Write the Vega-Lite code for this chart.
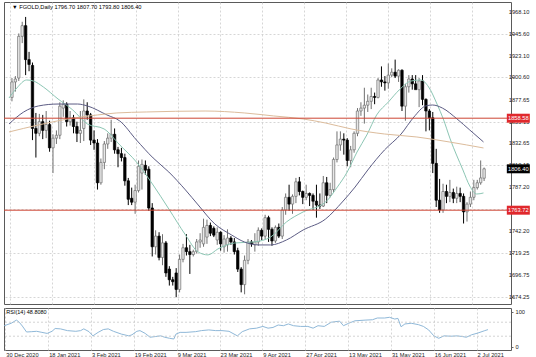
{
"$schema": "https://vega.github.io/schema/vega-lite/v6.json",
"padding": {"left": 1, "top": 1, "right": 0, "bottom": 0},
"background": "white",
"spacing": 2,
"config": {
 "view": {"stroke": "#5a5a5a", "strokeWidth": 1},
 "font": "Liberation Sans",
 "axis": {"labelFont": "Liberation Sans", "labelFontSize": 5.7, "labelColor": "#222222", "tickColor": "#666666", "domain": false, "gridColor": "#cccccc", "gridDash": [2, 2], "gridWidth": 0.8, "labelOverlap": false, "labelFlush": false}
},
"datasets": {
 "bars": [
{"i":0,"o":1880,"h":1900,"l":1876,"c":1896},{"i":1,"o":1896,"h":1902,"l":1886,"c":1899},{"i":2,"o":1900,"h":1946,"l":1897,"c":1943},{"i":3,"o":1943,"h":1958,"l":1936,"c":1954},{"i":4,"o":1954,"h":1963,"l":1903,"c":1919},{"i":5,"o":1919,"h":1927,"l":1907,"c":1914},{"i":6,"o":1913,"h":1916,"l":1836,"c":1848},{"i":7,"o":1848,"h":1864,"l":1818,"c":1843},{"i":8,"o":1843,"h":1863,"l":1840,"c":1855},{"i":9,"o":1855,"h":1862,"l":1837,"c":1846},
{"i":10,"o":1846,"h":1866,"l":1838,"c":1852},{"i":11,"o":1852,"h":1856,"l":1824,"c":1828},{"i":12,"o":1828,"h":1842,"l":1802,"c":1838},{"i":13,"o":1838,"h":1846,"l":1832,"c":1841},{"i":14,"o":1841,"h":1875,"l":1837,"c":1871},{"i":15,"o":1869,"h":1877,"l":1860,"c":1873},{"i":16,"o":1873,"h":1875,"l":1850,"c":1855},{"i":17,"o":1855,"h":1866,"l":1851,"c":1859},{"i":18,"o":1859,"h":1862,"l":1843,"c":1850},{"i":19,"o":1850,"h":1855,"l":1834,"c":1843},
{"i":20,"o":1843,"h":1866,"l":1833,"c":1846},{"i":21,"o":1848,"h":1878,"l":1835,"c":1866},{"i":22,"o":1866,"h":1875,"l":1857,"c":1862},{"i":23,"o":1862,"h":1864,"l":1831,"c":1836},{"i":24,"o":1836,"h":1846,"l":1826,"c":1833},{"i":25,"o":1833,"h":1837,"l":1785,"c":1792},{"i":26,"o":1792,"h":1817,"l":1790,"c":1813},{"i":27,"o":1813,"h":1835,"l":1806,"c":1832},{"i":28,"o":1832,"h":1843,"l":1827,"c":1838},{"i":29,"o":1838,"h":1857,"l":1834,"c":1842},
{"i":30,"o":1842,"h":1848,"l":1822,"c":1826},{"i":31,"o":1826,"h":1829,"l":1808,"c":1822},{"i":32,"o":1822,"h":1828,"l":1814,"c":1818},{"i":33,"o":1818,"h":1822,"l":1789,"c":1794},{"i":34,"o":1794,"h":1797,"l":1769,"c":1775},{"i":35,"o":1776,"h":1787,"l":1769,"c":1772},{"i":36,"o":1772,"h":1790,"l":1760,"c":1784},{"i":37,"o":1784,"h":1815,"l":1782,"c":1809},{"i":38,"o":1802,"h":1816,"l":1785,"c":1811},{"i":39,"o":1810,"h":1815,"l":1800,"c":1805},
{"i":40,"o":1806,"h":1809,"l":1763,"c":1766},{"i":41,"o":1766,"h":1771,"l":1716,"c":1726},{"i":42,"o":1726,"h":1743,"l":1718,"c":1737},{"i":43,"o":1737,"h":1741,"l":1712,"c":1715},{"i":44,"o":1715,"h":1739,"l":1707,"c":1730},{"i":45,"o":1730,"h":1732,"l":1695,"c":1699},{"i":46,"o":1703,"h":1706,"l":1686,"c":1692},{"i":47,"o":1692,"h":1695,"l":1686,"c":1690},{"i":48,"o":1699,"h":1704,"l":1674,"c":1682},{"i":49,"o":1682,"h":1718,"l":1679,"c":1713},
{"i":50,"o":1713,"h":1729,"l":1710,"c":1725},{"i":51,"o":1725,"h":1739,"l":1717,"c":1721},{"i":52,"o":1721,"h":1728,"l":1698,"c":1718},{"i":53,"o":1718,"h":1723,"l":1716,"c":1721},{"i":54,"o":1721,"h":1734,"l":1719,"c":1731},{"i":55,"o":1731,"h":1740,"l":1725,"c":1733},{"i":56,"o":1729,"h":1755,"l":1726,"c":1746},{"i":57,"o":1736,"h":1754,"l":1729,"c":1748},{"i":58,"o":1748,"h":1751,"l":1737,"c":1740},{"i":59,"o":1745,"h":1747,"l":1736,"c":1738},
{"i":60,"o":1733,"h":1746,"l":1728,"c":1741},{"i":61,"o":1741,"h":1742,"l":1722,"c":1729},{"i":62,"o":1726,"h":1738,"l":1720,"c":1734},{"i":63,"o":1728,"h":1744,"l":1721,"c":1735},{"i":64,"o":1735,"h":1737,"l":1728,"c":1731},{"i":65,"o":1731,"h":1735,"l":1718,"c":1721},{"i":66,"o":1722,"h":1725,"l":1700,"c":1703},{"i":67,"o":1703,"h":1705,"l":1679,"c":1687},{"i":68,"o":1687,"h":1717,"l":1677,"c":1712},{"i":69,"o":1712,"h":1734,"l":1708,"c":1731},
{"i":70,"o":1731,"h":1733,"l":1726,"c":1729},{"i":71,"o":1728,"h":1740,"l":1721,"c":1731},{"i":72,"o":1731,"h":1746,"l":1727,"c":1743},{"i":73,"o":1743,"h":1745,"l":1733,"c":1737},{"i":74,"o":1737,"h":1759,"l":1734,"c":1756},{"i":75,"o":1756,"h":1758,"l":1731,"c":1744},{"i":76,"o":1744,"h":1746,"l":1727,"c":1732},{"i":77,"o":1732,"h":1748,"l":1730,"c":1746},{"i":78,"o":1746,"h":1750,"l":1735,"c":1737},{"i":79,"o":1737,"h":1767,"l":1734,"c":1764},
{"i":80,"o":1764,"h":1781,"l":1759,"c":1777},{"i":81,"o":1777,"h":1790,"l":1763,"c":1770},{"i":82,"o":1770,"h":1780,"l":1760,"c":1778},{"i":83,"o":1778,"h":1797,"l":1771,"c":1793},{"i":84,"o":1793,"h":1798,"l":1779,"c":1783},{"i":85,"o":1783,"h":1784,"l":1770,"c":1777},{"i":86,"o":1777,"h":1790,"l":1774,"c":1781},{"i":87,"o":1781,"h":1782,"l":1768,"c":1779},{"i":88,"o":1779,"h":1781,"l":1764,"c":1773},{"i":89,"o":1773,"h":1790,"l":1756,"c":1769},
{"i":90,"o":1769,"h":1781,"l":1765,"c":1768},{"i":91,"o":1768,"h":1799,"l":1767,"c":1792},{"i":92,"o":1792,"h":1798,"l":1771,"c":1779},{"i":93,"o":1779,"h":1792,"l":1777,"c":1785},{"i":94,"o":1785,"h":1818,"l":1782,"c":1816},{"i":95,"o":1816,"h":1845,"l":1813,"c":1831},{"i":96,"o":1831,"h":1845,"l":1825,"c":1837},{"i":97,"o":1837,"h":1843,"l":1821,"c":1836},{"i":98,"o":1836,"h":1838,"l":1809,"c":1815},{"i":99,"o":1815,"h":1830,"l":1808,"c":1826},
{"i":100,"o":1826,"h":1845,"l":1823,"c":1843},{"i":101,"o":1843,"h":1869,"l":1840,"c":1866},{"i":102,"o":1866,"h":1875,"l":1861,"c":1869},{"i":103,"o":1869,"h":1890,"l":1853,"c":1872},{"i":104,"o":1872,"h":1883,"l":1865,"c":1876},{"i":105,"o":1876,"h":1890,"l":1868,"c":1881},{"i":106,"o":1881,"h":1885,"l":1873,"c":1880},{"i":107,"o":1880,"h":1900,"l":1879,"c":1898},{"i":108,"o":1898,"h":1912,"l":1891,"c":1896},{"i":109,"o":1896,"h":1902,"l":1887,"c":1895},
{"i":110,"o":1895,"h":1915,"l":1889,"c":1903},{"i":111,"o":1903,"h":1910,"l":1901,"c":1906},{"i":112,"o":1906,"h":1919,"l":1900,"c":1902},{"i":113,"o":1902,"h":1909,"l":1896,"c":1908},{"i":114,"o":1908,"h":1909,"l":1866,"c":1871},{"i":115,"o":1871,"h":1894,"l":1856,"c":1891},{"i":116,"o":1891,"h":1903,"l":1885,"c":1899},{"i":117,"o":1899,"h":1903,"l":1888,"c":1894},{"i":118,"o":1894,"h":1903,"l":1889,"c":1888},{"i":119,"o":1888,"h":1900,"l":1870,"c":1897},
{"i":120,"o":1897,"h":1903,"l":1872,"c":1878},{"i":121,"o":1878,"h":1879,"l":1845,"c":1866},{"i":122,"o":1866,"h":1868,"l":1846,"c":1859},{"i":123,"o":1859,"h":1865,"l":1802,"c":1812},{"i":124,"o":1812,"h":1827,"l":1767,"c":1774},{"i":125,"o":1774,"h":1796,"l":1761,"c":1764},{"i":126,"o":1764,"h":1791,"l":1761,"c":1783},{"i":127,"o":1783,"h":1790,"l":1771,"c":1778},{"i":128,"o":1778,"h":1795,"l":1772,"c":1782},{"i":129,"o":1782,"h":1786,"l":1771,"c":1776},
{"i":130,"o":1776,"h":1788,"l":1771,"c":1781},{"i":131,"o":1781,"h":1787,"l":1772,"c":1778},{"i":132,"o":1778,"h":1781,"l":1750,"c":1762},{"i":133,"o":1762,"h":1772,"l":1752,"c":1770},{"i":134,"o":1770,"h":1783,"l":1767,"c":1777},{"i":135,"o":1777,"h":1795,"l":1774,"c":1787},{"i":136,"o":1787,"h":1795,"l":1785,"c":1792},{"i":137,"o":1792,"h":1815,"l":1790,"c":1797},{"i":138,"o":1796.7,"h":1807.7,"l":1793.8,"c":1806.4}
 ],
 "ma": [
{"s":"fast","i":-0.86,"v":1879.4},{"s":"fast","i":1.43,"v":1889.7},{"s":"fast","i":4.3,"v":1898.0},{"s":"fast","i":6.3,"v":1896.9},{"s":"fast","i":9.17,"v":1890.8},{"s":"fast","i":13.47,"v":1878.4},{"s":"fast","i":17.77,"v":1867.1},{"s":"fast","i":22.06,"v":1852.6},{"s":"fast","i":26.93,"v":1847.5},{"s":"fast","i":31.52,"v":1831.0},{"s":"fast","i":36.39,"v":1813.4},{"s":"fast","i":41.26,"v":1789.7},{"s":"fast","i":45.85,"v":1765.0},{"s":"fast","i":50.72,"v":1738.2},{"s":"fast","i":54.44,"v":1720.6},{"s":"fast","i":57.31,"v":1717.6},{"s":"fast","i":60.17,"v":1723.7},{"s":"fast","i":65.04,"v":1729.9},{"s":"fast","i":70.77,"v":1731.0},{"s":"fast","i":75.64,"v":1736.1},{"s":"fast","i":80.23,"v":1751.6},{"s":"fast","i":85.1,"v":1761.9},{"s":"fast","i":91.69,"v":1772.2},{"s":"fast","i":95.13,"v":1787.7},{"s":"fast","i":97.99,"v":1803.1},{"s":"fast","i":100.86,"v":1823.7},{"s":"fast","i":103.72,"v":1841.3},{"s":"fast","i":106.59,"v":1861.9},{"s":"fast","i":110.03,"v":1875.3},{"s":"fast","i":113.18,"v":1887.7},{"s":"fast","i":116.62,"v":1896.9},{"s":"fast","i":119.48,"v":1898.0},{"s":"fast","i":121.78,"v":1890.8},{"s":"fast","i":124.36,"v":1872.2},{"s":"fast","i":126.07,"v":1857.8},{"s":"fast","i":128.08,"v":1837.2},{"s":"fast","i":131.81,"v":1805.2},{"s":"fast","i":133.81,"v":1788.7},{"s":"fast","i":135.82,"v":1780.4},{"s":"fast","i":137.82,"v":1781.5},
{"s":"mid","i":-0.86,"v":1852.6},{"s":"mid","i":3.44,"v":1865.0},{"s":"mid","i":7.74,"v":1871.2},{"s":"mid","i":13.47,"v":1873.2},{"s":"mid","i":19.2,"v":1873.2},{"s":"mid","i":22.06,"v":1871.2},{"s":"mid","i":27.79,"v":1861.9},{"s":"mid","i":31.52,"v":1855.7},{"s":"mid","i":36.39,"v":1836.1},{"s":"mid","i":41.26,"v":1817.6},{"s":"mid","i":45.85,"v":1803.1},{"s":"mid","i":50.72,"v":1784.6},{"s":"mid","i":54.44,"v":1769.1},{"s":"mid","i":59.31,"v":1749.5},{"s":"mid","i":64.18,"v":1738.2},{"s":"mid","i":67.91,"v":1731.0},{"s":"mid","i":72.21,"v":1727.9},{"s":"mid","i":75.64,"v":1727.9},{"s":"mid","i":80.23,"v":1733.0},{"s":"mid","i":85.1,"v":1743.3},{"s":"mid","i":91.69,"v":1754.7},{"s":"mid","i":96.56,"v":1772.2},{"s":"mid","i":100.29,"v":1787.6},{"s":"mid","i":104.01,"v":1805.2},{"s":"mid","i":108.88,"v":1825.8},{"s":"mid","i":113.75,"v":1842.3},{"s":"mid","i":117.48,"v":1859.8},{"s":"mid","i":120.92,"v":1871.2},{"s":"mid","i":122.92,"v":1872.2},{"s":"mid","i":125.79,"v":1869.1},{"s":"mid","i":130.09,"v":1857.8},{"s":"mid","i":133.81,"v":1846.4},{"s":"mid","i":137.82,"v":1834.1},
{"s":"slow","i":-0.86,"v":1844.4},{"s":"slow","i":7.74,"v":1851.6},{"s":"slow","i":16.33,"v":1857.8},{"s":"slow","i":24.93,"v":1861.9},{"s":"slow","i":30.66,"v":1864.0},{"s":"slow","i":39.26,"v":1865.0},{"s":"slow","i":56.45,"v":1866.0},{"s":"slow","i":67.91,"v":1864.0},{"s":"slow","i":76.5,"v":1860.9},{"s":"slow","i":85.1,"v":1857.8},{"s":"slow","i":91.69,"v":1853.6},{"s":"slow","i":99.14,"v":1847.5},{"s":"slow","i":108.88,"v":1842.3},{"s":"slow","i":118.34,"v":1839.2},{"s":"slow","i":127.79,"v":1834.1},{"s":"slow","i":137.82,"v":1827.9}
 ],
 "levels": [
{"v":1858.58,"t":"1858.58","k":"red"},{"v":1763.72,"t":"1763.72","k":"red"},{"v":1806.40,"t":"1806.40","k":"black"}
 ],
 "yticks": [
{"v":1968.10,"t":"1968.10"},{"v":1945.60,"t":"1945.60"},{"v":1923.10,"t":"1923.10"},{"v":1900.60,"t":"1900.60"},{"v":1877.65,"t":"1877.65"},{"v":1855.15,"t":"1855.15"},{"v":1832.65,"t":"1832.65"},{"v":1810.15,"t":"1810.15"},{"v":1787.20,"t":"1787.20"},{"v":1764.70,"t":"1764.70"},{"v":1742.20,"t":"1742.20"},{"v":1719.25,"t":"1719.25"},{"v":1696.75,"t":"1696.75"},{"v":1674.25,"t":"1674.25"}
 ],
 "rsi": [
{"i":-0.8,"v":60},{"i":1.2,"v":67},{"i":2.7,"v":76},{"i":3.5,"v":70},{"i":4.4,"v":59},{"i":5.6,"v":42},{"i":7.1,"v":43},{"i":8.5,"v":44},{"i":10,"v":41},{"i":11.5,"v":38},{"i":12.9,"v":44},{"i":13.8,"v":52},{"i":15.3,"v":51},{"i":17.3,"v":46},{"i":19.7,"v":44},{"i":21.1,"v":46},{"i":22,"v":51},{"i":23.5,"v":43},{"i":24.6,"v":31},{"i":26.1,"v":41},{"i":27.6,"v":49},{"i":29,"v":51},{"i":30.5,"v":44},{"i":32.8,"v":36},{"i":34.9,"v":31},{"i":35.8,"v":34},{"i":37.2,"v":44},{"i":38.1,"v":46},{"i":39.6,"v":38},{"i":41,"v":27},{"i":42.5,"v":29},{"i":44,"v":31},{"i":45.2,"v":27},{"i":46.6,"v":24},{"i":47.8,"v":22},{"i":48.4,"v":36},{"i":49.6,"v":41},{"i":51.3,"v":41},{"i":54,"v":43},{"i":55.7,"v":46},{"i":57.8,"v":48},{"i":59.8,"v":46},{"i":61.6,"v":46},{"i":63.6,"v":44},{"i":66,"v":31},{"i":67.4,"v":43},{"i":69.5,"v":51},{"i":71.5,"v":53},{"i":73.3,"v":58},{"i":74.8,"v":53},{"i":76.2,"v":55},{"i":77.7,"v":62},{"i":79.2,"v":60},{"i":80.6,"v":65},{"i":82.1,"v":60},{"i":84.1,"v":58},{"i":86.2,"v":58},{"i":87.7,"v":53},{"i":89.1,"v":60},{"i":90.9,"v":58},{"i":92.9,"v":70},{"i":95.3,"v":73},{"i":96.4,"v":60},{"i":97.9,"v":67},{"i":99.7,"v":74},{"i":102.6,"v":76},{"i":104.7,"v":77},{"i":106.1,"v":82},{"i":108.2,"v":82},{"i":109.6,"v":84},{"i":111.1,"v":79},{"i":112,"v":81},{"i":112.9,"v":57},{"i":114,"v":65},{"i":115.8,"v":67},{"i":117.9,"v":63},{"i":119.3,"v":58},{"i":120.8,"v":48},{"i":122.3,"v":31},{"i":123.7,"v":24},{"i":125.2,"v":31},{"i":127.2,"v":30},{"i":129,"v":31},{"i":130.5,"v":29},{"i":131.6,"v":27},{"i":133.1,"v":34},{"i":134.9,"v":39},{"i":136.9,"v":46},{"i":137.8,"v":48.808}
 ],
 "rsiLevels": [{"v":30},{"v":70}],
 "headers": [{"panel":"main","t":"▼ FGOLD,Daily  1796.70 1807.70 1793.80 1806.40"},{"panel":"rsi","t":"RSI(14) 48.8080"}]
},
"vconcat": [
 {
  "width": 507, "height": 302,
  "layer": [
   {
    "data": {"name": "bars"},
    "mark": {"type": "rule", "strokeWidth": 1},
    "encoding": {
     "x": {"field": "i", "type": "quantitative", "title": null, "scale": {"domain": [-0.86, 144.4], "nice": false, "zero": false},
       "axis": {"values": [-0.49, 5.648, 11.786, 17.924, 24.062, 30.2, 36.338, 42.476, 48.614, 54.752, 60.89, 67.028, 73.166, 79.304, 85.442, 91.58, 97.718, 103.856, 109.994, 116.132, 122.27, 128.408, 134.546, 140.684], "labels": false, "ticks": false, "grid": true}},
     "y": {"field": "l", "type": "quantitative", "title": null, "scale": {"domain": [1667.0, 1978.4], "nice": false, "zero": false},
       "axis": {"orient": "right", "values": [1968.10, 1945.60, 1923.10, 1900.60, 1877.65, 1855.15, 1832.65, 1810.15, 1787.20, 1764.70, 1742.20, 1719.25, 1696.75, 1674.25], "labels": false, "grid": true, "tickSize": 2}},
     "y2": {"field": "h"},
     "color": {"condition": {"test": "datum.c >= datum.o", "value": "#707070"}, "value": "#000000"}
    }
   },
   {
    "data": {"name": "bars"},
    "mark": {"type": "bar", "orient": "vertical", "size": 2.4, "strokeWidth": 0.7},
    "encoding": {
     "x": {"field": "i", "type": "quantitative", "title": null},
     "y": {"field": "o", "type": "quantitative", "title": null},
     "y2": {"field": "c"},
     "fill": {"condition": {"test": "datum.c >= datum.o", "value": "#e8e8e8"}, "value": "#000000"},
     "stroke": {"condition": {"test": "datum.c >= datum.o", "value": "#707070"}, "value": "#000000"}
    }
   },
   {
    "data": {"name": "ma"},
    "mark": {"type": "line", "strokeWidth": 1, "interpolate": "monotone"},
    "encoding": {
     "x": {"field": "i", "type": "quantitative", "title": null},
     "y": {"field": "v", "type": "quantitative", "title": null},
     "color": {"field": "s", "type": "nominal", "legend": null, "scale": {"domain": ["fast", "mid", "slow"], "range": ["#8cc6b4", "#5c5c84", "#dcbc9c"]}}
    }
   },
   {
    "data": {"name": "levels"},
    "transform": [{"filter": "datum.k == 'red'"}],
    "mark": {"type": "rule", "color": "#cc4433", "strokeWidth": 1},
    "encoding": {"y": {"field": "v", "type": "quantitative", "title": null}}
   },
   {
    "data": {"name": "yticks"},
    "mark": {"type": "text", "color": "#222222", "fontSize": 5.7, "align": "left", "baseline": "middle", "font": "Liberation Sans"},
    "encoding": {
     "x": {"datum": 145.2},
     "y": {"field": "v", "type": "quantitative", "title": null},
     "text": {"field": "t"}
    }
   },
   {
    "data": {"name": "levels"},
    "mark": {"type": "point", "shape": "M-1,-0.39H1V0.39H-1Z", "size": 529, "filled": true, "opacity": 1, "strokeWidth": 0},
    "encoding": {
     "x": {"datum": 148.0},
     "y": {"field": "v", "type": "quantitative", "title": null},
     "color": {"field": "k", "type": "nominal", "legend": null, "scale": {"domain": ["red", "black"], "range": ["#e0282c", "#000000"]}}
    }
   },
   {
    "data": {"name": "levels"},
    "mark": {"type": "text", "color": "#ffffff", "fontSize": 5.7, "align": "center", "baseline": "middle", "font": "Liberation Sans"},
    "encoding": {
     "x": {"datum": 148.0},
     "y": {"field": "v", "type": "quantitative", "title": null},
     "text": {"field": "t"}
    }
   },
   {
    "data": {"name": "headers"},
    "transform": [{"filter": "datum.panel == 'main'"}],
    "mark": {"type": "text", "color": "#000000", "fontSize": 5.7, "align": "left", "baseline": "middle", "font": "Liberation Sans"},
    "encoding": {
     "x": {"datum": 0.0},
     "y": {"datum": 1973.2},
     "text": {"field": "t"}
    }
   }
  ],
  "resolve": {"scale": {"color": "independent"}}
 },
 {
  "width": 507, "height": 42,
  "layer": [
   {
    "data": {"name": "rsi"},
    "mark": {"type": "line", "color": "#8fb8d8", "strokeWidth": 1},
    "encoding": {
     "x": {"field": "i", "type": "quantitative", "title": null, "scale": {"domain": [-0.86, 144.4], "nice": false, "zero": false},
       "axis": {"values": [-0.49, 5.648, 11.786, 17.924, 24.062, 30.2, 36.338, 42.476, 48.614, 54.752, 60.89, 67.028, 73.166, 79.304, 85.442, 91.58, 97.718, 103.856, 109.994, 116.132, 122.27, 128.408, 134.546, 140.684], "grid": true, "ticks": false, "labelAlign": "left", "labelBaseline": "top", "labelPadding": 1, "labelOffset": 0.5, "labelOverlap": false, "labelBound": false, "labelFlush": false,
        "labelExpr": "['30 Dec 2020','','18 Jan 2021','','3 Feb 2021','','19 Feb 2021','','9 Mar 2021','','23 Mar 2021','','9 Apr 2021','','27 Apr 2021','','13 May 2021','','31 May 2021','','16 Jun 2021','','2 Jul 2021',''][round((datum.value+0.49)/6.138)]"}},
     "y": {"field": "v", "type": "quantitative", "title": null, "scale": {"domain": [-9.4, 110.6], "nice": false, "zero": false},
       "axis": {"orient": "right", "values": [0, 30, 70, 100], "format": "d", "grid": false, "tickSize": 2, "labelPadding": 2, "labelOverlap": false, "labelFlush": false}}
    }
   },
   {
    "data": {"name": "rsiLevels"},
    "mark": {"type": "rule", "color": "#c8c8c8", "strokeDash": [2, 2], "strokeWidth": 0.8},
    "encoding": {"y": {"field": "v", "type": "quantitative", "title": null}}
   },
   {
    "data": {"name": "headers"},
    "transform": [{"filter": "datum.panel == 'rsi'"}],
    "mark": {"type": "text", "color": "#000000", "fontSize": 5.5, "align": "left", "baseline": "middle", "font": "Liberation Sans"},
    "encoding": {
     "x": {"datum": -0.2},
     "y": {"datum": 99.0},
     "text": {"field": "t"}
    }
   }
  ]
 }
]
}
